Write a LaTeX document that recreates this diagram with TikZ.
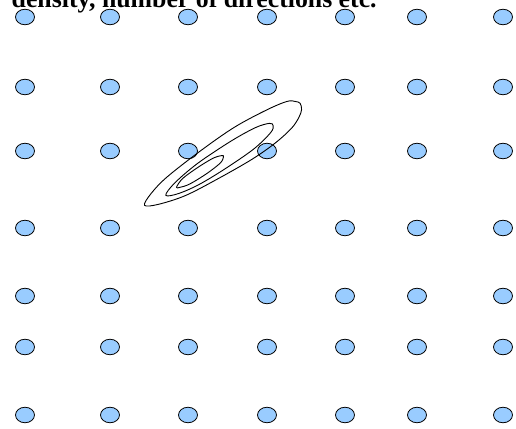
\documentclass[tikz,border=0pt]{standalone}
\usepackage{fontspec}
\setmainfont{Liberation Serif}
\usetikzlibrary{shapes.geometric}
\definecolor{dotblue}{RGB}{153,204,255}
\tikzset{
  dot/.style={ellipse, draw=black, line width=0.8pt, fill=dotblue, minimum width=19pt, minimum height=15.5pt, inner sep=0pt},
  contour/.style={draw=black, line width=0.9pt}
}
\begin{document}
\begin{tikzpicture}[x=1pt,y=-1pt]
\useasboundingbox (0,0) rectangle (516,428);
\node[anchor=base west, inner sep=0pt, font=\bfseries\fontsize{25.8}{30}\selectfont] (title) at (11.5,8) {density, number of directions etc.};
\foreach \yy [count=\r] in {17,87,151,228,296,347,415}{
  \foreach \xx [count=\c] in {25,110,188,267,345,417,503}{
    \node[dot] (d-\r-\c) at (\xx,\yy) {};
  }
}
% outer contour
\begin{scope}[shift={(222.5,156.5)}, rotate=32, x=1pt, y=1pt]
\draw[contour] plot[smooth cycle, tension=0.55] coordinates {
  (-92,0) (-80,6.5) (-58,12) (-15,16.5) (26,18.5) (63,16) (84,12.5) (91,8) (94,4) (92,-2)
  (86,-7) (74,-12.5) (52,-16.5) (24,-18) (-15,-16.5) (-52,-13.5) (-80,-6.5)};
\end{scope}
% middle contour
\begin{scope}[shift={(219.5,160.5)}, rotate=33, x=1pt, y=1pt]
\draw[contour] plot[smooth cycle, tension=0.55] coordinates {
  (-64,0) (-50,5.5) (-20,9.5) (20,10) (48,8) (62,4) (64,0) (58,-4.5) (35,-9) (0,-10) (-30,-9) (-52,-5.5)};
\end{scope}
% inner contour
\begin{scope}[shift={(200,172)}, rotate=33, x=1pt, y=1pt]
\draw[contour] plot[smooth cycle, tension=0.55] coordinates {
  (-28,0) (-18,4) (0,5) (18,4.5) (27,2) (28,0) (22,-3.5) (5,-5) (-15,-4.5) (-25,-2)};
\end{scope}
\end{tikzpicture}
\end{document}
